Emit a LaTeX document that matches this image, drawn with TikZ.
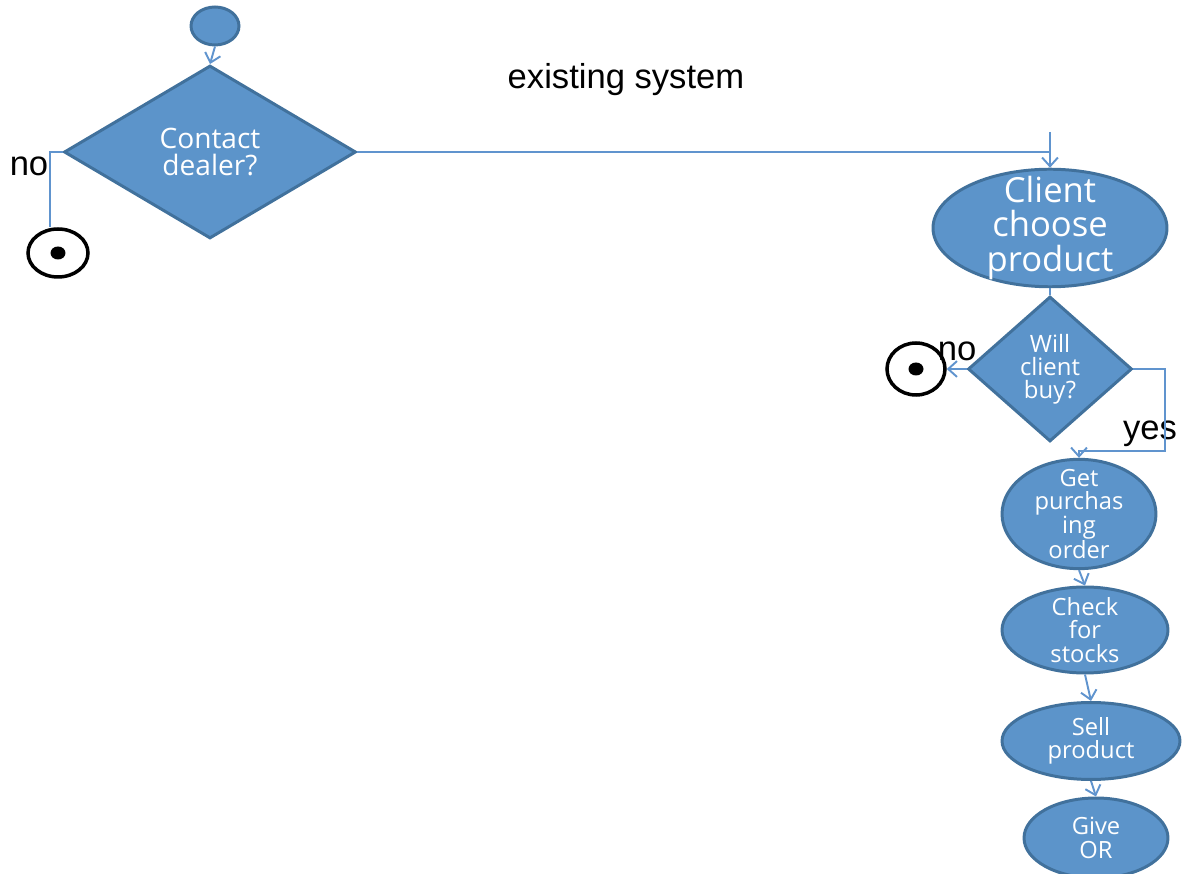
\documentclass[tikz,border=0pt]{standalone}
\usepackage{fontspec}
\setmainfont{Liberation Sans}
\newfontfamily\boxfont{Open Sans}
\usetikzlibrary{arrows.meta,shapes.geometric}
\definecolor{boxfill}{RGB}{92,148,202}
\definecolor{boxline}{RGB}{65,113,156}
\definecolor{flowline}{RGB}{96,148,206}
\tikzset{
	act/.style={ellipse, draw=boxline, fill=boxfill, line width=1.7pt, text=white, align=center, inner sep=0pt, font=\boxfont\fontsize{13.5pt}{13.3pt}\selectfont},
	decide/.style={diamond, draw=boxline, fill=boxfill, line width=1.7pt, text=white, align=center, inner sep=0pt},
	flow/.style={draw=flowline, line width=1.1pt},
	flowarrow/.style={flow, -{Straight Barb[length=5pt,width=9pt]}},
	stopring/.style={ellipse, draw=black, line width=2pt, fill=white, inner sep=0pt},
	stopdot/.style={ellipse, fill=black, inner sep=0pt, minimum width=0.3cm, minimum height=0.26cm},
	lbl/.style={font=\fontsize{19.7pt}{22pt}\selectfont}
}
\begin{document}
\begin{tikzpicture}[x=0.02cm, y=-0.02cm]
		\useasboundingbox (0, 0) rectangle (1194, 874);
		\node [lbl] (title) at (626, 80) {existing system};
		\node [act, minimum width=0.96cm, minimum height=0.76cm] (start) at (215, 26) {};
		\node [decide, minimum width=5.84cm, minimum height=3.46cm, font=\boxfont\fontsize{16pt}{15.5pt}\selectfont] (contact) at (210, 152) {Contact\\dealer?};
		\node [stopring, minimum width=1.2cm, minimum height=0.96cm] (stopA) at (58, 253) {};
		\node [stopdot] (dotA) at (58, 253) {};
		\node [lbl] (noA) at (29, 166) {no};
		\node [act, minimum width=4.68cm, minimum height=2.34cm, inner ysep=-6pt, font=\boxfont\fontsize{19.7pt}{19.8pt}\selectfont] (client) at (1050, 228) {Client\\choose\\product};
		\node [decide, minimum width=3.28cm, minimum height=2.9cm, font=\boxfont\fontsize{13.6pt}{13pt}\selectfont] (will) at (1050, 369) {Will\\client\\buy?};
		\node [stopring, minimum width=1.16cm, minimum height=1.04cm] (stopB) at (916, 369) {};
		\node [stopdot] (dotB) at (916, 369) {};
		\node [lbl] (noB) at (957, 351) {no};
		\node [lbl] (yes) at (1150, 434) {yes};
		\node [act, minimum width=3.08cm, minimum height=2.14cm, inner ysep=-3.5pt] (getorder) at (1079, 514) {Get\\purchas\\ing\\order};
		\node [act, minimum width=3.32cm, minimum height=1.72cm, inner ysep=-1.2pt] (check) at (1085, 630) {Check\\for\\stocks};
		\node [act, minimum width=3.56cm, minimum height=1.54cm] (sell) at (1091, 741) {Sell\\product};
		\node [act, minimum width=2.88cm, minimum height=1.6cm] (give) at (1096, 838) {Give\\OR};
		\coordinate (noturn) at (50, 152);
		\coordinate (join) at (1050, 152);
		\coordinate (entry) at (1050, 132);
		\coordinate (yesturn) at (1165, 451);
		\draw [flowarrow] (start.south) -- (contact.north);
		\draw [flow] (contact.west) -- (noturn) -- (noturn |- stopA.north);
		\draw [flow] (contact.east) -- (join);
		\draw [flowarrow] (entry) -- (client.north);
		\draw [flow] (client.south) -- (will.north);
		\draw [flowarrow] (will.west) -- (stopB.east);
		\draw [flowarrow] (will.east) -| (yesturn) -| (getorder.north);
		\draw [flowarrow] (getorder.south) -- (check.north);
		\draw [flowarrow] (check.south) -- (sell.north);
		\draw [flowarrow] (sell.south) -- (give.north);
	\end{tikzpicture}
\end{document}
